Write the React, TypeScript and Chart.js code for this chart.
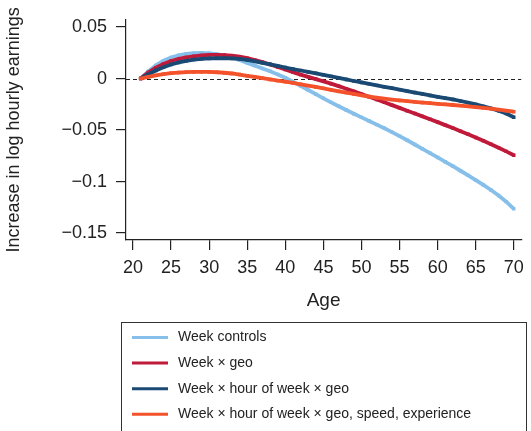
import React, { useEffect, useRef } from "react";
import { Chart, registerables } from "chart.js";

Chart.register(...registerables);

const ages = [
  21, 22, 23, 24, 25, 26, 27, 28, 29, 30,
  31, 32, 33, 34, 35, 36, 37, 38, 39, 40,
  41, 42, 43, 44, 45, 46, 47, 48, 49, 50,
  51, 52, 53, 54, 55, 56, 57, 58, 59, 60,
  61, 62, 63, 64, 65, 66, 67, 68, 69, 70,
];

const weekControls = [
  0.0, 0.007, 0.0128, 0.0172, 0.0204, 0.0226, 0.024, 0.0247, 0.0249, 0.0245,
  0.0236, 0.0222, 0.0203, 0.0179, 0.0152, 0.0125, 0.0098, 0.007, 0.004, 0.0007,
  -0.003, -0.007, -0.0111, -0.0152, -0.0192, -0.0231, -0.0269, -0.0306, -0.0342, -0.0377,
  -0.0412, -0.0447, -0.0483, -0.052, -0.0559, -0.0599, -0.064, -0.0682, -0.0724, -0.0766,
  -0.0808, -0.0851, -0.0895, -0.094, -0.0986, -0.1033, -0.1082, -0.1135, -0.1195, -0.1265,
];

const weekGeo = [
  0.0, 0.0058, 0.0105, 0.0142, 0.017, 0.019, 0.0205, 0.0216, 0.0224, 0.0229,
  0.023, 0.0228, 0.0222, 0.0212, 0.0198, 0.018, 0.0159, 0.0136, 0.0112, 0.0087,
  0.0062, 0.0038, 0.0016, -0.0005, -0.0027, -0.005, -0.0074, -0.0099, -0.0125, -0.0151,
  -0.0177, -0.0204, -0.0231, -0.0258, -0.0285, -0.0312, -0.0339, -0.0367, -0.0395, -0.0423,
  -0.0452, -0.0481, -0.0511, -0.0541, -0.0572, -0.0604, -0.0637, -0.0671, -0.0707, -0.0745,
];

const weekHourGeo = [
  0.0, 0.004, 0.0078, 0.011, 0.0136, 0.0156, 0.0172, 0.0184, 0.0191, 0.0195,
  0.0197, 0.0197, 0.0195, 0.019, 0.018, 0.0167, 0.0153, 0.0138, 0.0122, 0.0107,
  0.0092, 0.0078, 0.0064, 0.0051, 0.0036, 0.0021, 0.0006, -0.0009, -0.0024, -0.0038,
  -0.0052, -0.0066, -0.008, -0.0094, -0.0108, -0.0122, -0.0136, -0.015, -0.0164, -0.0177,
  -0.019, -0.0203, -0.0218, -0.0234, -0.0251, -0.027, -0.029, -0.0312, -0.034, -0.0376,
];

const weekHourGeoSpeedExp = [
  0.0, 0.0017, 0.0031, 0.0043, 0.0052, 0.0058, 0.0062, 0.0064, 0.0065, 0.0064,
  0.0061, 0.0056, 0.0049, 0.0039, 0.0027, 0.0015, 0.0003, -0.0009, -0.002, -0.0031,
  -0.0043, -0.0056, -0.0069, -0.0082, -0.0096, -0.011, -0.0124, -0.0137, -0.015, -0.0163,
  -0.0175, -0.0186, -0.0196, -0.0205, -0.0213, -0.022, -0.0227, -0.0233, -0.0239, -0.0245,
  -0.0251, -0.0257, -0.0263, -0.027, -0.0277, -0.0285, -0.0293, -0.0302, -0.0312, -0.0322,
];

const seriesLabels = [
  "Week controls",
  "Week \u00d7 geo",
  "Week \u00d7 hour of week \u00d7 geo",
  "Week \u00d7 hour of week \u00d7 geo, speed, experience",
];
const seriesColors = ["#86BFE9", "#C01A3B", "#1A4A73", "#F4522B"];

const xTickValues = [20, 25, 30, 35, 40, 45, 50, 55, 60, 65, 70];
const yTickValues = [-0.15, -0.1, -0.05, 0, 0.05];
const yTickLabels = ["\u22120.15", "\u22120.1", "\u22120.05", "0", "0.05"];

const FONT = "'Liberation Sans', Arial, Helvetica, sans-serif";
const INK = "#222222";

const zeroLinePlugin = {
  id: "zeroLine",
  beforeDatasetsDraw(chart: any) {
    const { ctx, chartArea, scales } = chart;
    const y = Math.round(scales.y.getPixelForValue(0)) + 0.5;
    ctx.save();
    ctx.strokeStyle = INK;
    ctx.lineWidth = 1;
    ctx.setLineDash([4, 3]);
    ctx.beginPath();
    ctx.moveTo(chartArea.left, y);
    ctx.lineTo(chartArea.right, y);
    ctx.stroke();
    ctx.restore();
  },
};

const boxLegendPlugin = {
  id: "boxLegend",
  afterDraw(chart: any) {
    const { ctx } = chart;
    ctx.save();
    ctx.strokeStyle = "#333333";
    ctx.lineWidth = 1;
    ctx.strokeRect(121.5, 322.5, 405, 130);
    const items = chart.data.datasets;
    items.forEach((ds: any, i: number) => {
      const y = 337.5 + i * 25.6;
      ctx.strokeStyle = ds.borderColor;
      ctx.lineWidth = 3;
      ctx.beginPath();
      ctx.moveTo(132, y);
      ctx.lineTo(168, y);
      ctx.stroke();
      ctx.fillStyle = INK;
      ctx.font = `14px ${FONT}`;
      ctx.textBaseline = "middle";
      ctx.textAlign = "left";
      ctx.fillText(ds.label, 178, y);
    });
    ctx.restore();
  },
};

export default function App() {
  const canvasRef = useRef<HTMLCanvasElement | null>(null);

  useEffect(() => {
    const canvas = canvasRef.current;
    if (!canvas) return;
    const series = [weekControls, weekGeo, weekHourGeo, weekHourGeoSpeedExp];
    const datasets = series.map((vals, i) => ({
      label: seriesLabels[i],
      data: ages.map((a, j) => ({ x: a, y: vals[j] })),
      borderColor: seriesColors[i],
      backgroundColor: seriesColors[i],
      borderWidth: 3.8,
      pointStyle: "rect" as const,
      pointRadius: 2.4,
      pointBorderWidth: 0,
      pointBackgroundColor: seriesColors[i],
      tension: 0,
      order: 3 - i,
    }));

    const chart = new Chart(canvas, {
      type: "line",
      data: { datasets },
      options: {
        animation: false,
        responsive: false,
        maintainAspectRatio: false,
        layout: { padding: { top: 15, right: 9, bottom: 119, left: 0 } },
        plugins: {
          legend: { display: false },
          tooltip: { enabled: false },
        },
        scales: {
          x: {
            type: "linear",
            min: 19.083,
            max: 70.97,
            afterBuildTicks: (s: any) => {
              s.ticks = xTickValues.map((v) => ({ value: v }));
            },
            afterFit: (s: any) => {
              s.height = 72;
            },
            ticks: {
              autoSkip: false,
              maxRotation: 0,
              padding: 7,
              color: INK,
              font: { family: FONT, size: 18 },
              callback: (v: any) => String(v),
            },
            grid: {
              display: true,
              drawOnChartArea: false,
              drawTicks: true,
              tickLength: 10,
              color: INK,
              lineWidth: 1.2,
            },
            border: { display: true, color: INK, width: 1.2 },
            title: {
              display: true,
              text: "Age",
              color: INK,
              font: { family: FONT, size: 19 },
              padding: { top: 0, bottom: 0 },
            },
          },
          y: {
            type: "linear",
            min: -0.1567,
            max: 0.057,
            afterBuildTicks: (s: any) => {
              s.ticks = yTickValues.map((v) => ({ value: v }));
            },
            afterFit: (s: any) => {
              s.width = 126;
            },
            ticks: {
              padding: 9,
              color: INK,
              font: { family: FONT, size: 18 },
              callback: (v: any) => {
                const k = yTickValues.indexOf(v);
                return k >= 0 ? yTickLabels[k] : "";
              },
            },
            grid: {
              display: true,
              drawOnChartArea: false,
              drawTicks: true,
              tickLength: 10,
              color: INK,
              lineWidth: 1.2,
            },
            border: { display: true, color: INK, width: 1.2 },
            title: {
              display: true,
              text: "Increase in log hourly earnings",
              color: INK,
              font: { family: FONT, size: 18 },
              padding: { top: 3, bottom: 0 },
            },
          },
        },
      },
      plugins: [zeroLinePlugin, boxLegendPlugin],
    });

    return () => {
      chart.destroy();
    };
  }, []);

  return (
    <div style={{ position: "fixed", left: 0, top: 0, width: 531, height: 431, background: "#ffffff" }}>
      <canvas ref={canvasRef} width={531} height={431} style={{ display: "block" }} />
    </div>
  );
}
